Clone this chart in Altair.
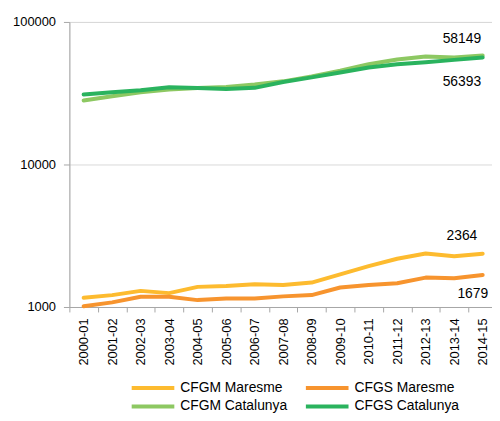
import altair as alt
import pandas as pd

years = ["2000-01", "2001-02", "2002-03", "2003-04", "2004-05", "2005-06", "2006-07",
         "2007-08", "2008-09", "2009-10", "2010-11", "2011-12", "2012-13", "2013-14", "2014-15"]
cfgm_maresme = [1160, 1212, 1298, 1251, 1384, 1406, 1445, 1426, 1484, 1695, 1936, 2179, 2371, 2271, 2364]
cfgs_maresme = [1011, 1078, 1179, 1179, 1118, 1149, 1149, 1187, 1212, 1370, 1429, 1468, 1608, 1590, 1679]
cfgm_catalunya = [28140, 30140, 32130, 33550, 34420, 34980, 36350, 38310, 41500, 45460, 50520, 54470, 57150, 56300, 58149]
cfgs_catalunya = [30970, 32130, 33180, 34810, 34420, 33880, 34500, 37880, 40840, 44240, 47920, 50520, 52160, 54200, 56393]

series_names = ["CFGM Maresme", "CFGS Maresme", "CFGM Catalunya", "CFGS Catalunya"]
series_values = [cfgm_maresme, cfgs_maresme, cfgm_catalunya, cfgs_catalunya]
series_colors = ["#FDBB2F", "#F7942E", "#8DC862", "#2AB35E"]

# legend is laid out column by column: order the domain so rows read as in the original
legend_order = ["CFGM Maresme", "CFGM Catalunya", "CFGS Maresme", "CFGS Catalunya"]
legend_colors = [series_colors[series_names.index(n)] for n in legend_order]

rows = []
for name, vals in zip(series_names, series_values):
    for y, v in zip(years, vals):
        rows.append({"curs": y, "serie": name, "valor": v})
df = pd.DataFrame(rows)

FONT = "Liberation Sans"
W = 427
H = 288

x_scale = alt.Scale(range=[0, 432], paddingInner=0, paddingOuter=0)
y_scale = alt.Scale(type="log", domain=[1000, 100000], nice=False)

x_enc = alt.X("curs:N", sort=years, title=None, scale=x_scale,
              axis=alt.Axis(labelAngle=-90, tickBand="extent", tickSize=5, tickColor="#a6a6a6",
                            domainColor="#a6a6a6", labelFont=FONT, labelFontSize=13,
                            labelColor="#000000", labelPadding=6, grid=False))
y_enc = alt.Y("valor:Q", title=None, scale=y_scale,
              axis=alt.Axis(values=[1000, 10000, 100000], format="d", tickSize=6,
                            tickColor="#a6a6a6", domainColor="#a6a6a6", gridColor="#d9d9d9",
                            labelFont=FONT, labelFontSize=13, labelColor="#000000",
                            labelPadding=8))

lines = alt.Chart(df).mark_line(strokeWidth=4, strokeCap="round", strokeJoin="round").encode(
    x=x_enc,
    y=y_enc,
    color=alt.Color("serie:N", sort=legend_order,
                    scale=alt.Scale(domain=legend_order, range=legend_colors),
                    legend=alt.Legend(title=None, orient="none", legendX=77, legendY=362,
                                      columns=2, symbolType="M-4,0H4", symbolSize=116,
                                      symbolStrokeWidth=4, labelFont=FONT, labelFontSize=14,
                                      labelColor="#000000", labelOffset=20, columnPadding=9,
                                      rowPadding=2)),
)

last = years[-1]
label_specs = [
    ("CFGM Catalunya", -21, -17),
    ("CFGS Catalunya", -21, 25),
    ("CFGM Maresme", -21, -18),
    ("CFGS Maresme", -10, 19),
]
texts = []
for name, dx, dy in label_specs:
    t = alt.Chart(df).transform_filter(
        (alt.datum.serie == name) & (alt.datum.curs == last)
    ).mark_text(font=FONT, fontSize=14, color="#000000", dx=dx, dy=dy, align="center",
                baseline="middle").encode(
        x=alt.X("curs:N", sort=years, scale=x_scale),
        y=alt.Y("valor:Q", scale=y_scale),
        text=alt.Text("valor:Q", format="d"),
    )
    texts.append(t)

chart = alt.layer(lines, *texts).properties(
    width=W, height=H,
    autosize=alt.AutoSizeParams(type="none"),
    padding={"left": 62, "top": 12, "right": 0, "bottom": 105},
).configure_view(stroke=None).configure(font=FONT)

chart.save("out.html", embed_options={"renderer": "svg", "actions": False})
